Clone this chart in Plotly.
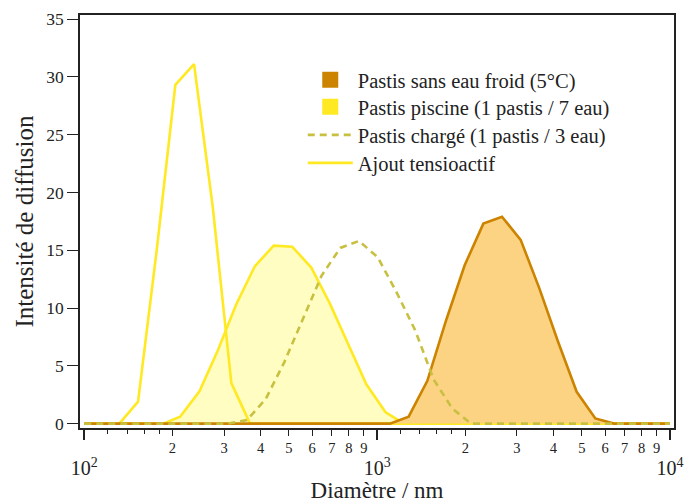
import plotly.graph_objects as go

# ---- data (diameter in nm, scattering intensity) ----
froid_x = [100, 955.4, 1106, 1281, 1484, 1718, 1990, 2305, 2669, 3091, 3580, 4145, 4801, 5560, 6439, 10000]
froid_y = [0, 0, 0, 0.6, 3.7, 8.9, 13.7, 17.3, 17.9, 15.9, 11.7, 7.1, 2.75, 0.45, 0, 0]

piscine_x = [100, 186.3, 212.4, 247.3, 285.4, 330.1, 381.9, 443.5, 513.1, 595.7, 689.1, 793.6, 918.5, 1066.7, 1234, 10000]
piscine_y = [0, 0, 0.6, 2.8, 6.3, 10.3, 13.6, 15.4, 15.3, 13.5, 10.4, 7.0, 3.4, 1.0, 0, 0]

charge_x = [100, 309.9, 359.2, 415.8, 481.6, 557.6, 646.1, 748.5, 866.6, 1004, 1163, 1347, 1561, 1807, 2093, 10000]
charge_y = [0, 0, 0.3, 2.1, 5.3, 9.0, 12.8, 15.2, 15.8, 14.4, 11.4, 8.1, 3.8, 1.3, 0, 0]

ajout_x = [100, 113.7, 131.7, 152.6, 176.7, 204.6, 237.0, 274.4, 317.8, 368.1, 10000]
ajout_y = [0, 0, 0, 1.9, 15.0, 29.3, 31.1, 18.8, 3.5, 0, 0]

names = ["Pastis sans eau froid (5°C)", "Pastis piscine (1 pastis / 7 eau)",
         "Pastis chargé (1 pastis / 3 eau)", "Ajout tensioactif"]

y_ticks = [0, 5, 10, 15, 20, 25, 30, 35]
digit_ticks = [200, 300, 400, 500, 600, 700, 800, 900, 2000, 3000, 4000, 5000, 6000, 7000, 8000, 9000]
digit_text = ["2", "3", "4", "5", "6", "7", "8", "9"] * 2
small_ticks = [120, 140, 160, 180, 1200, 1400, 1600, 1800]
decade_ticks = [100, 1000, 10000]
decade_text = ["10<sup>2</sup>", "10<sup>3</sup>", "10<sup>4</sup>"]

ORANGE = "#CC8400"
ORANGE_FILL = "#FCD283"
YELLOW = "#FFE923"
YELLOW_FILL = "#FFFDC2"
OLIVE = "#C8C040"
FONT = "Liberation Serif"
LW = 2.6

fig = go.Figure()
fig.add_trace(go.Scatter(x=piscine_x, y=piscine_y, mode="lines", fill="tozeroy",
                         fillcolor=YELLOW_FILL, line=dict(color=YELLOW, width=LW), showlegend=False))
fig.add_trace(go.Scatter(x=ajout_x, y=ajout_y, mode="lines",
                         line=dict(color=YELLOW, width=LW), showlegend=False))
fig.add_trace(go.Scatter(x=froid_x, y=froid_y, mode="lines", fill="tozeroy",
                         fillcolor=ORANGE_FILL, line=dict(color=ORANGE, width=LW), showlegend=False))
fig.add_trace(go.Scatter(x=charge_x, y=charge_y, mode="lines",
                         line=dict(color=OLIVE, width=LW, dash="7px,5px"), showlegend=False))
# invisible trace so the decade axis (x2) is drawn
fig.add_trace(go.Scatter(x=decade_ticks, y=[0, 0, 0], xaxis="x2", mode="markers",
                         marker=dict(opacity=0), showlegend=False, hoverinfo="skip"))

# legend entries, one legend per row
legend_rows = ["legend", "legend2", "legend3", "legend4"]
fig.add_trace(go.Scatter(x=[None], y=[None], mode="markers", name=names[0], legend=legend_rows[0],
                         marker=dict(symbol="square", size=17, color=ORANGE)))
fig.add_trace(go.Scatter(x=[None], y=[None], mode="markers", name=names[1], legend=legend_rows[1],
                         marker=dict(symbol="square", size=17, color=YELLOW)))
fig.add_trace(go.Scatter(x=[None], y=[None], mode="lines", name=names[2], legend=legend_rows[2],
                         line=dict(color=OLIVE, width=LW, dash="7px,5px")))
fig.add_trace(go.Scatter(x=[None], y=[None], mode="lines", name=names[3], legend=legend_rows[3],
                         line=dict(color=YELLOW, width=LW)))

row_y = [0.8426, 0.7772, 0.7094, 0.6416]
legend_common = dict(x=0.375, xanchor="left", yanchor="middle", bgcolor="rgba(0,0,0,0)",
                     font=dict(size=20.5, family=FONT, color="#222"), itemwidth=45)

xr = [1.9853, 4.0137]
fig.update_layout(
    width=697, height=503,
    margin=dict(l=80, r=23, t=15, b=75, autoexpand=False),
    paper_bgcolor="white", plot_bgcolor="white",
    font=dict(family=FONT, color="#222", size=17),
    showlegend=True,
    legend=dict(y=row_y[0], **legend_common),
    legend2=dict(y=row_y[1], **legend_common),
    legend3=dict(y=row_y[2], **legend_common),
    legend4=dict(y=row_y[3], **legend_common),
    xaxis=dict(type="log", range=xr, tickmode="array", tickvals=digit_ticks, ticktext=digit_text,
               ticks="outside", ticklen=6, tickwidth=1.3, tickcolor="#222", automargin=False,
               tickfont=dict(size=14.5), showline=True, linecolor="#222", linewidth=1.5,
               mirror=True, showgrid=False, zeroline=False,
               minor=dict(tickvals=small_ticks, ticks="outside", ticklen=4, tickwidth=1.1, tickcolor="#222"),
               title=dict(text="Diamètre / nm", font=dict(size=23), standoff=29)),
    xaxis2=dict(type="log", range=xr, overlaying="x", anchor="y", side="bottom", automargin=False,
                tickmode="array", tickvals=decade_ticks, ticktext=decade_text,
                ticks="outside", ticklen=11, tickwidth=1.5, tickcolor="#222",
                tickfont=dict(size=20), ticklabelstandoff=11, showline=False, showgrid=False,
                zeroline=False),
    yaxis=dict(range=[-0.38, 35.35], tickmode="array", tickvals=y_ticks, automargin=False,
               ticks="outside", ticklen=11, tickwidth=1.3, tickcolor="#222",
               tickfont=dict(size=17.5), showline=True, linecolor="#222", linewidth=1.5,
               mirror=True, showgrid=False, zeroline=False,
               title=dict(text="Intensité de diffusion", font=dict(size=25), standoff=6)),
)

fig.write_html("out.html")
